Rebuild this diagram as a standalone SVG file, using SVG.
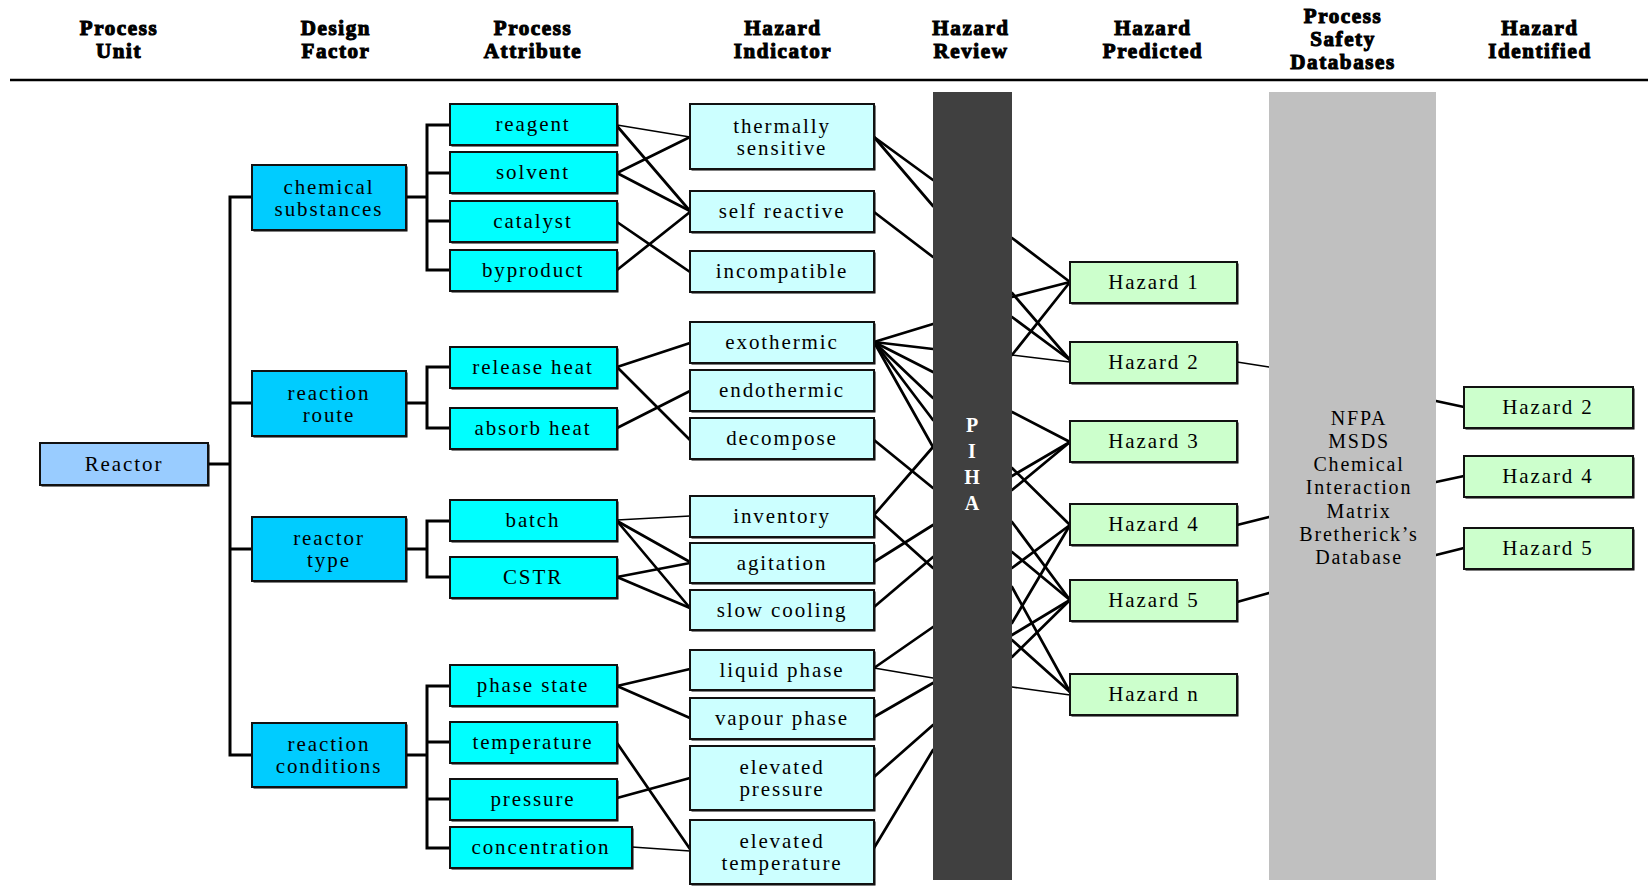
<svg xmlns="http://www.w3.org/2000/svg" width="1648" height="890" viewBox="0 0 1648 890">
  <style>
    text { font-family: "Liberation Serif", "Times New Roman", serif; fill: #000; text-anchor: middle; }
    .hd { font-size: 21px; font-weight: bold; letter-spacing: 1.6px; stroke: #000; stroke-width: 1.1px; }
    .lb { font-size: 21px; letter-spacing: 1.9px; }
    .db { font-size: 20px; letter-spacing: 1.8px; }
    .piha { font-size: 20px; font-weight: bold; fill: #fff; }
    .box { stroke: #111; stroke-width: 2; }
    .sh { fill: #000; }
    .reactor { fill: #99ccff; }
    .factor { fill: #00ccff; }
    .attr { fill: #00ffff; }
    .ind { fill: #ccffff; }
    .haz { fill: #ccffcc; }
    .tree line, .tree path { stroke: #000; stroke-width: 3; fill: none; }
    .links line { stroke: #000; stroke-width: 2.7; stroke-linecap: round; }
    .links line.t { stroke-width: 1.6; }
  </style>

  <!-- column headings -->
  <g id="headings">
    <text class="hd" x="119" y="35">Process</text><text class="hd" x="119" y="58">Unit</text>
    <text class="hd" x="336" y="35">Design</text><text class="hd" x="336" y="58">Factor</text>
    <text class="hd" x="533" y="35">Process</text><text class="hd" x="533" y="58">Attribute</text>
    <text class="hd" x="783" y="35">Hazard</text><text class="hd" x="783" y="58">Indicator</text>
    <text class="hd" x="971" y="35">Hazard</text><text class="hd" x="971" y="58">Review</text>
    <text class="hd" x="1153" y="35">Hazard</text><text class="hd" x="1153" y="58">Predicted</text>
    <text class="hd" x="1343" y="23">Process</text><text class="hd" x="1343" y="46">Safety</text><text class="hd" x="1343" y="69">Databases</text>
    <text class="hd" x="1540" y="35">Hazard</text><text class="hd" x="1540" y="58">Identified</text>
    <line x1="10" y1="80" x2="1648" y2="80" stroke="#000" stroke-width="2.6"/>
  </g>

  <!-- hierarchy brackets -->
  <g id="tree" class="tree">
    <line x1="208" y1="464" x2="230" y2="464"/>
    <path d="M252,197 H230 V755 H252 M230,403 H252 M230,549 H252"/>
    <path d="M406,197 H427 M450,125 H427 V270 H450 M427,173 H450 M427,221 H450"/>
    <path d="M406,403 H427 M450,367 H427 V428 H450"/>
    <path d="M406,549 H427 M450,521 H427 V577 H450"/>
    <path d="M406,755 H427 M450,686 H427 V848 H450 M427,742 H450 M427,799 H450"/>
  </g>

  <!-- connectors between columns -->
  <g id="connectors" class="links">
    <!-- attribute to indicator -->
    <line class="t" x1="617" y1="125" x2="690" y2="137"/>
    <line x1="617" y1="126" x2="690" y2="211"/>
    <line x1="617" y1="173" x2="690" y2="137"/>
    <line x1="617" y1="173" x2="690" y2="211"/>
    <line x1="617" y1="222" x2="690" y2="272"/>
    <line x1="617" y1="270" x2="690" y2="212"/>
    <line x1="617" y1="367" x2="690" y2="343"/>
    <line x1="617" y1="367" x2="690" y2="440"/>
    <line x1="617" y1="428" x2="690" y2="391"/>
    <line class="t" x1="617" y1="520" x2="690" y2="516"/>
    <line x1="617" y1="521" x2="690" y2="562"/>
    <line x1="617" y1="521" x2="690" y2="608"/>
    <line x1="617" y1="577" x2="690" y2="563"/>
    <line x1="617" y1="577" x2="690" y2="608"/>
    <line x1="617" y1="686" x2="690" y2="669"/>
    <line x1="617" y1="686" x2="690" y2="718"/>
    <line x1="617" y1="743" x2="690" y2="849"/>
    <line x1="617" y1="798" x2="690" y2="778"/>
    <line class="t" x1="632" y1="847" x2="690" y2="851"/>
    <!-- indicator to review -->
    <line x1="874" y1="137" x2="933" y2="180"/>
    <line x1="874" y1="137" x2="933" y2="206"/>
    <line x1="874" y1="212" x2="933" y2="257"/>
    <line x1="874" y1="342" x2="933" y2="324"/>
    <line x1="874" y1="342" x2="933" y2="349"/>
    <line x1="874" y1="342" x2="933" y2="372"/>
    <line x1="874" y1="342" x2="933" y2="398"/>
    <line x1="874" y1="342" x2="933" y2="420"/>
    <line x1="874" y1="342" x2="933" y2="447"/>
    <line x1="874" y1="440" x2="933" y2="488"/>
    <line x1="874" y1="515" x2="933" y2="447"/>
    <line x1="874" y1="515" x2="933" y2="568"/>
    <line x1="874" y1="562" x2="933" y2="525"/>
    <line x1="874" y1="607" x2="933" y2="557"/>
    <line x1="874" y1="668" x2="933" y2="627"/>
    <line class="t" x1="874" y1="668" x2="933" y2="678"/>
    <line x1="874" y1="717" x2="933" y2="683"/>
    <line x1="874" y1="777" x2="933" y2="725"/>
    <line x1="874" y1="848" x2="933" y2="750"/>
    <!-- review to predicted hazards -->
    <line x1="1012" y1="238" x2="1070" y2="282"/>
    <line x1="1012" y1="297" x2="1070" y2="282"/>
    <line x1="1012" y1="293" x2="1070" y2="360"/>
    <line x1="1012" y1="317" x2="1070" y2="360"/>
    <line x1="1012" y1="355" x2="1070" y2="282"/>
    <line class="t" x1="1012" y1="355" x2="1070" y2="362"/>
    <line x1="1012" y1="412" x2="1070" y2="442"/>
    <line x1="1012" y1="476" x2="1070" y2="442"/>
    <line x1="1012" y1="490" x2="1070" y2="442"/>
    <line x1="1012" y1="468" x2="1070" y2="525"/>
    <line x1="1012" y1="522" x2="1070" y2="600"/>
    <line x1="1012" y1="552" x2="1070" y2="600"/>
    <line x1="1012" y1="568" x2="1070" y2="525"/>
    <line x1="1012" y1="587" x2="1070" y2="692"/>
    <line x1="1012" y1="623" x2="1070" y2="525"/>
    <line x1="1012" y1="635" x2="1070" y2="600"/>
    <line x1="1012" y1="657" x2="1070" y2="600"/>
    <line x1="1012" y1="640" x2="1070" y2="692"/>
    <line class="t" x1="1012" y1="687" x2="1070" y2="695"/>
    <!-- predicted hazards to databases -->
    <line class="t" x1="1237" y1="362" x2="1269" y2="367"/>
    <line x1="1237" y1="525" x2="1269" y2="517"/>
    <line x1="1237" y1="602" x2="1269" y2="593"/>
    <!-- databases to identified hazards -->
    <line x1="1436" y1="401" x2="1464" y2="407"/>
    <line x1="1436" y1="482" x2="1464" y2="476"/>
    <line x1="1436" y1="555" x2="1464" y2="548"/>
  </g>

  <!-- process unit -->
  <g id="reactor">
    <rect class="sh" x="41.5" y="444.5" width="168" height="42"/>
    <rect class="box reactor" x="40" y="443" width="168" height="42"/>
    <text class="lb" x="124" y="471">Reactor</text>
  </g>

  <!-- design factors -->
  <g id="chemical-substances">
    <rect class="sh" x="253.5" y="166.5" width="154" height="65"/>
    <rect class="box factor" x="252" y="165" width="154" height="65"/>
    <text class="lb" x="329" y="194">chemical</text><text class="lb" x="329" y="216">substances</text>
  </g>
  <g id="reaction-route">
    <rect class="sh" x="253.5" y="372.5" width="154" height="65"/>
    <rect class="box factor" x="252" y="371" width="154" height="65"/>
    <text class="lb" x="329" y="400">reaction</text><text class="lb" x="329" y="422">route</text>
  </g>
  <g id="reactor-type">
    <rect class="sh" x="253.5" y="518.5" width="154" height="64"/>
    <rect class="box factor" x="252" y="517" width="154" height="64"/>
    <text class="lb" x="329" y="545">reactor</text><text class="lb" x="329" y="567">type</text>
  </g>
  <g id="reaction-conditions">
    <rect class="sh" x="253.5" y="724.5" width="154" height="64"/>
    <rect class="box factor" x="252" y="723" width="154" height="64"/>
    <text class="lb" x="329" y="751">reaction</text><text class="lb" x="329" y="773">conditions</text>
  </g>

  <!-- process attributes -->
  <g id="reagent"><rect class="sh" x="451.5" y="105.5" width="167" height="41"/><rect class="box attr" x="450" y="104" width="167" height="41"/><text class="lb" x="533" y="131">reagent</text></g>
  <g id="solvent"><rect class="sh" x="451.5" y="153.5" width="167" height="41"/><rect class="box attr" x="450" y="152" width="167" height="41"/><text class="lb" x="533" y="179">solvent</text></g>
  <g id="catalyst"><rect class="sh" x="451.5" y="202.5" width="167" height="41"/><rect class="box attr" x="450" y="201" width="167" height="41"/><text class="lb" x="533" y="228">catalyst</text></g>
  <g id="byproduct"><rect class="sh" x="451.5" y="251.5" width="167" height="41"/><rect class="box attr" x="450" y="250" width="167" height="41"/><text class="lb" x="533" y="277">byproduct</text></g>
  <g id="release-heat"><rect class="sh" x="451.5" y="348.5" width="167" height="41"/><rect class="box attr" x="450" y="347" width="167" height="41"/><text class="lb" x="533" y="374">release heat</text></g>
  <g id="absorb-heat"><rect class="sh" x="451.5" y="409.5" width="167" height="41"/><rect class="box attr" x="450" y="408" width="167" height="41"/><text class="lb" x="533" y="435">absorb heat</text></g>
  <g id="batch"><rect class="sh" x="451.5" y="501.5" width="167" height="41"/><rect class="box attr" x="450" y="500" width="167" height="41"/><text class="lb" x="533" y="527">batch</text></g>
  <g id="cstr"><rect class="sh" x="451.5" y="558.5" width="167" height="41"/><rect class="box attr" x="450" y="557" width="167" height="41"/><text class="lb" x="533" y="584">CSTR</text></g>
  <g id="phase-state"><rect class="sh" x="451.5" y="666.5" width="167" height="41"/><rect class="box attr" x="450" y="665" width="167" height="41"/><text class="lb" x="533" y="692">phase state</text></g>
  <g id="temperature"><rect class="sh" x="451.5" y="723.5" width="167" height="41"/><rect class="box attr" x="450" y="722" width="167" height="41"/><text class="lb" x="533" y="749">temperature</text></g>
  <g id="pressure"><rect class="sh" x="451.5" y="780.5" width="167" height="41"/><rect class="box attr" x="450" y="779" width="167" height="41"/><text class="lb" x="533" y="806">pressure</text></g>
  <g id="concentration"><rect class="sh" x="451.5" y="828.5" width="182" height="41"/><rect class="box attr" x="450" y="827" width="182" height="41"/><text class="lb" x="541" y="854">concentration</text></g>

  <!-- hazard indicators -->
  <g id="thermally-sensitive"><rect class="sh" x="691.5" y="105.5" width="184" height="65"/><rect class="box ind" x="690" y="104" width="184" height="65"/><text class="lb" x="782" y="133">thermally</text><text class="lb" x="782" y="155">sensitive</text></g>
  <g id="self-reactive"><rect class="sh" x="691.5" y="192.5" width="184" height="41"/><rect class="box ind" x="690" y="191" width="184" height="41"/><text class="lb" x="782" y="218">self reactive</text></g>
  <g id="incompatible"><rect class="sh" x="691.5" y="252.5" width="184" height="41"/><rect class="box ind" x="690" y="251" width="184" height="41"/><text class="lb" x="782" y="278">incompatible</text></g>
  <g id="exothermic"><rect class="sh" x="691.5" y="323.5" width="184" height="41"/><rect class="box ind" x="690" y="322" width="184" height="41"/><text class="lb" x="782" y="349">exothermic</text></g>
  <g id="endothermic"><rect class="sh" x="691.5" y="371.5" width="184" height="41"/><rect class="box ind" x="690" y="370" width="184" height="41"/><text class="lb" x="782" y="397">endothermic</text></g>
  <g id="decompose"><rect class="sh" x="691.5" y="419.5" width="184" height="41"/><rect class="box ind" x="690" y="418" width="184" height="41"/><text class="lb" x="782" y="445">decompose</text></g>
  <g id="inventory"><rect class="sh" x="691.5" y="497.5" width="184" height="41"/><rect class="box ind" x="690" y="496" width="184" height="41"/><text class="lb" x="782" y="523">inventory</text></g>
  <g id="agitation"><rect class="sh" x="691.5" y="544.5" width="184" height="40"/><rect class="box ind" x="690" y="543" width="184" height="40"/><text class="lb" x="782" y="570">agitation</text></g>
  <g id="slow-cooling"><rect class="sh" x="691.5" y="591.5" width="184" height="40"/><rect class="box ind" x="690" y="590" width="184" height="40"/><text class="lb" x="782" y="617">slow cooling</text></g>
  <g id="liquid-phase"><rect class="sh" x="691.5" y="651.5" width="184" height="40"/><rect class="box ind" x="690" y="650" width="184" height="40"/><text class="lb" x="782" y="677">liquid phase</text></g>
  <g id="vapour-phase"><rect class="sh" x="691.5" y="699.5" width="184" height="41"/><rect class="box ind" x="690" y="698" width="184" height="41"/><text class="lb" x="782" y="725">vapour phase</text></g>
  <g id="elevated-pressure"><rect class="sh" x="691.5" y="747.5" width="184" height="64"/><rect class="box ind" x="690" y="746" width="184" height="64"/><text class="lb" x="782" y="774">elevated</text><text class="lb" x="782" y="796">pressure</text></g>
  <g id="elevated-temperature"><rect class="sh" x="691.5" y="821.5" width="184" height="64"/><rect class="box ind" x="690" y="820" width="184" height="64"/><text class="lb" x="782" y="848">elevated</text><text class="lb" x="782" y="870">temperature</text></g>

  <!-- hazard review bar -->
  <g id="piha">
    <rect x="933" y="92" width="79" height="788" fill="#404040"/>
    <text class="piha" x="972" y="432">P</text>
    <text class="piha" x="972" y="458">I</text>
    <text class="piha" x="972" y="484">H</text>
    <text class="piha" x="972" y="510">A</text>
  </g>

  <!-- predicted hazards -->
  <g id="hazard-1"><rect class="sh" x="1071.5" y="263.5" width="167" height="41"/><rect class="box haz" x="1070" y="262" width="167" height="41"/><text class="lb" x="1154" y="289">Hazard 1</text></g>
  <g id="hazard-2"><rect class="sh" x="1071.5" y="343.5" width="167" height="41"/><rect class="box haz" x="1070" y="342" width="167" height="41"/><text class="lb" x="1154" y="369">Hazard 2</text></g>
  <g id="hazard-3"><rect class="sh" x="1071.5" y="422.5" width="167" height="41"/><rect class="box haz" x="1070" y="421" width="167" height="41"/><text class="lb" x="1154" y="448">Hazard 3</text></g>
  <g id="hazard-4"><rect class="sh" x="1071.5" y="505.5" width="167" height="41"/><rect class="box haz" x="1070" y="504" width="167" height="41"/><text class="lb" x="1154" y="531">Hazard 4</text></g>
  <g id="hazard-5"><rect class="sh" x="1071.5" y="581.5" width="167" height="41"/><rect class="box haz" x="1070" y="580" width="167" height="41"/><text class="lb" x="1154" y="607">Hazard 5</text></g>
  <g id="hazard-n"><rect class="sh" x="1071.5" y="675.5" width="167" height="41"/><rect class="box haz" x="1070" y="674" width="167" height="41"/><text class="lb" x="1154" y="701">Hazard n</text></g>

  <!-- safety databases bar -->
  <g id="databases">
    <rect x="1269" y="92" width="167" height="788" fill="#c0c0c0"/>
    <text class="db" x="1359" y="425">NFPA</text>
    <text class="db" x="1359" y="448">MSDS</text>
    <text class="db" x="1359" y="471">Chemical</text>
    <text class="db" x="1359" y="494">Interaction</text>
    <text class="db" x="1359" y="518">Matrix</text>
    <text class="db" x="1359" y="541">Bretherick’s</text>
    <text class="db" x="1359" y="564">Database</text>
  </g>

  <!-- identified hazards -->
  <g id="identified-hazard-2"><rect class="sh" x="1465.5" y="388.5" width="169" height="41"/><rect class="box haz" x="1464" y="387" width="169" height="41"/><text class="lb" x="1548" y="414">Hazard 2</text></g>
  <g id="identified-hazard-4"><rect class="sh" x="1465.5" y="457.5" width="169" height="41"/><rect class="box haz" x="1464" y="456" width="169" height="41"/><text class="lb" x="1548" y="483">Hazard 4</text></g>
  <g id="identified-hazard-5"><rect class="sh" x="1465.5" y="529.5" width="169" height="41"/><rect class="box haz" x="1464" y="528" width="169" height="41"/><text class="lb" x="1548" y="555">Hazard 5</text></g>
</svg>
